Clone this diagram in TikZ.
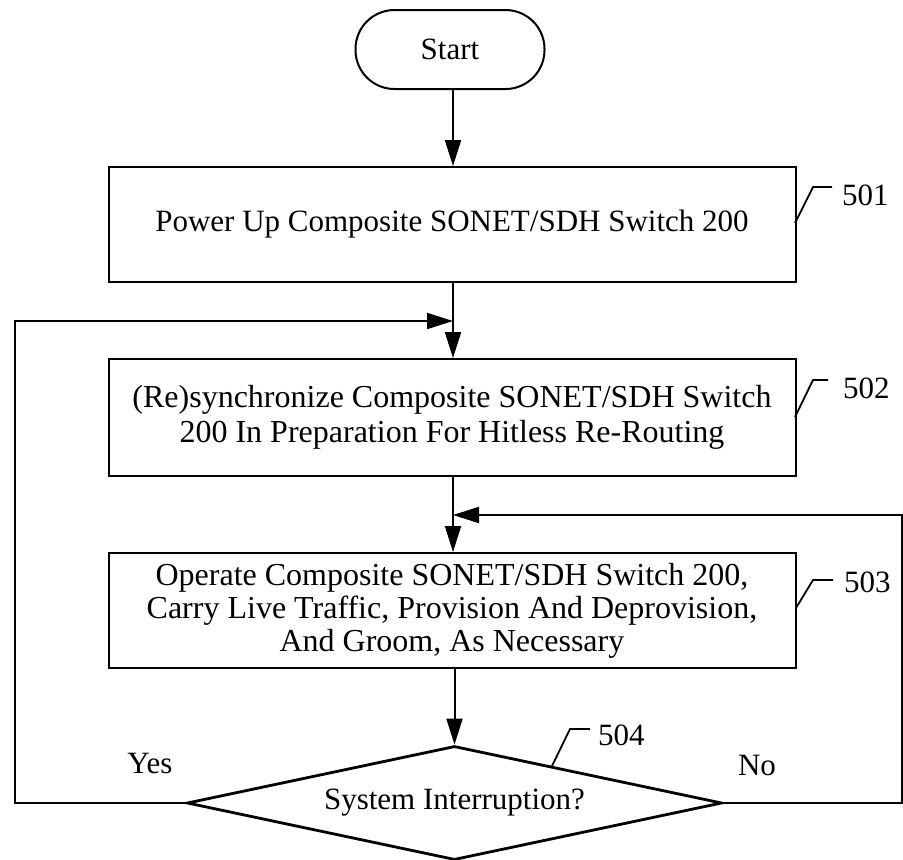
\documentclass[tikz,border=0pt]{standalone}
\usepackage{fontspec}
\setmainfont{Liberation Serif}
\usetikzlibrary{shapes.geometric,arrows.meta}
\begin{document}
\begin{tikzpicture}[x=1pt,y=-1pt,
  every node/.style={font=\fontsize{31}{34}\selectfont},
  procbox/.style={draw,line width=2pt,minimum width=687pt,inner sep=0pt,align=center},
  term/.style={draw,line width=2pt,minimum width=189pt,minimum height=79pt,rounded corners=39pt,inner sep=0pt},
  decide/.style={draw,diamond,aspect=4.7,line width=2.8pt,minimum width=535pt,minimum height=114pt,inner sep=0pt},
  conn/.style={line width=2pt},
  arr/.style={conn,-{Triangle[length=26pt,width=16pt]}},
  lead/.style={line width=1.8pt},
  reflabel/.style={anchor=west,inner sep=0pt},
  plain/.style={inner sep=0pt}]
\useasboundingbox (0,0) rectangle (903,860);

\node[term] (start) at (450,49.5) {Start};
\node[procbox,minimum height=115pt] (b501) at (452,224.5) {Power Up Composite SONET/SDH Switch 200};
\node[procbox,minimum height=117pt,font=\fontsize{32}{35}\selectfont] (b502) at (452,417.5) {(Re)synchronize Composite SONET/SDH Switch\\200 In Preparation For Hitless Re-Routing};
\node[procbox,minimum height=115pt,font=\fontsize{32}{33}\selectfont] (b503) at (452,610.5) {Operate Composite SONET/SDH Switch 200,\\Carry Live Traffic, Provision And Deprovision,\\And Groom, As Necessary};
\node[decide] (d504) at (454.5,803) {System Interruption?};

\coordinate (j1) at (453,321);
\coordinate (j2) at (453,515);
\coordinate (yl) at (15,803);
\coordinate (nr) at (902,803);

\draw[arr] (start.south -| j1) -- (b501.north -| j1);
\draw[conn] (b501.south -| j1) -- (j1);
\draw[arr] (j1) -- (b502.north -| j1);
\draw[conn] (b502.south -| j2) -- (j2);
\draw[arr] (j2) -- (b503.north -| j2);
\draw[arr] (b503.south -| d504.north) -- (d504.north);

\draw[arr] (d504.west) -- (yl) -- (yl |- j1) -- (j1);
\draw[arr] (d504.east) -- (nr) -- (nr |- j2) -- (j2);

\node[plain] (yes) at (150,763) {Yes};
\node[plain] (no) at (757,765) {No};

\draw[lead] (795,223) -- (813,187) -- (832,187);
\node[reflabel] (l501) at (842,195) {501};
\draw[lead] (795,417) -- (813,380) -- (828,380);
\node[reflabel] (l502) at (843,388) {502};
\draw[lead] (796,608) -- (813,580) -- (833,580);
\node[reflabel] (l503) at (844,582) {503};
\draw[lead] (552,766) -- (570,729) -- (590,729);
\node[reflabel] (l504) at (598,735) {504};
\end{tikzpicture}
\end{document}
